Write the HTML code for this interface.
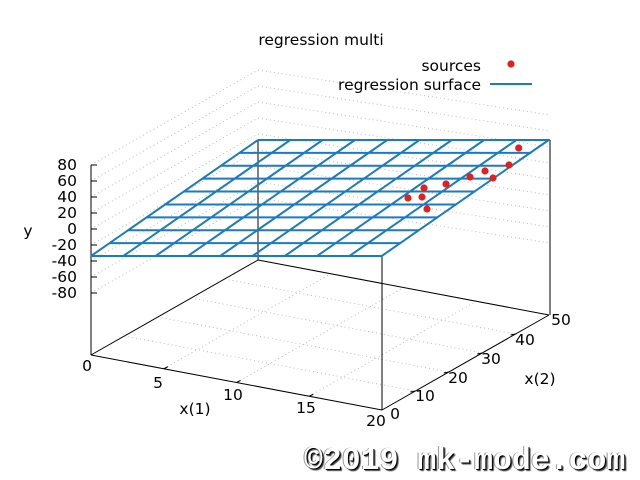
<!DOCTYPE html>
<html><head><meta charset="utf-8"><style>
body{margin:0;background:#fff;width:640px;height:480px;overflow:hidden}
svg text{font-family:"DejaVu Sans","Liberation Sans",sans-serif;font-size:15.5px;fill:#000}
.wm{position:absolute;left:304px;top:444px;font:bold 31.5px "Liberation Mono",monospace;color:#fff;white-space:pre;text-shadow:1px 1px 0 #000,2px 2px 1px #444,-1px 0 0 #999}
</style></head><body>
<svg width="640" height="480" xmlns="http://www.w3.org/2000/svg" style="position:absolute;left:0;top:0">
<g id="g"></g>
</svg>
<div class="wm">©2019 mk-mode.com</div>
<script>
const g=document.getElementById('g');
let s='';
function L(x1,y1,x2,y2,c,w,d){s+=`<line x1="${x1}" y1="${y1}" x2="${x2}" y2="${y2}" stroke="${c}" stroke-width="${w}" ${d?'stroke-dasharray="1,3"':''}/>`;}
function T(x,y,t,a){s+=`<text x="${x}" y="${y}" text-anchor="${a||'middle'}">${t}</text>`;}
function B(u,v){return [91+291*u+167*v, 355+55*u-95*v];}
const gc='#bbb';
const yt=[165,181,197,213,229,245,261,277,293];
for(const y of yt){L(91,y,258,y-95,gc,1,1);L(258,y-95,550,y-50,gc,1,1);}
for(const u of [0.25,0.5,0.75]){let a=B(u,0),b=B(u,1);L(a[0],a[1],b[0],b[1],gc,1,1);}
for(const v of [0.2,0.4,0.6,0.8]){let a=B(0,v),b=B(1,v);L(a[0],a[1],b[0],b[1],gc,1,1);}
let p00=B(0,0),p10=B(1,0),p11=B(1,1),p01=B(0,1);
L(p00[0],p00[1],p10[0],p10[1],'#000',1);L(p10[0],p10[1],p11[0],p11[1],'#000',1);
L(p11[0],p11[1],p01[0],p01[1],'#000',1);L(p01[0],p01[1],p00[0],p00[1],'#000',1);
L(91,165,91,355,'#000',1);L(258,140,258,260,'#000',1);L(550,140,550,315,'#000',1);L(382,256,382,410,'#000',1);
const yl=['80','60','40','20','0','-20','-40','-60','-80'];
yt.forEach((y,i)=>{L(91,y,97,y,'#000',1);T(77,y+5,yl[i],'end');});
[5,10,15].forEach(v=>{let a=B(v/20,0);L(a[0],a[1],a[0]+4,a[1]-2,'#000',1);});
T(87,371,'0');T(158,388,'5');T(233,400,'10');T(306,413,'15');T(376,426,'20');
T(195,414,'x(1)');
[10,20,30,40].forEach(v=>{let a=B(1,v/50);L(a[0],a[1],a[0]-5,a[1]+1,'#000',1);});
T(395,419,'0');
T(425,401,'10');T(458,383,'20');T(491,364,'30');T(525,345,'40');T(561,325,'50');
T(540,384,'x(2)');
T(28,236,'y');
const sc='#1a7bbf';
for(let i=0;i<10;i++){let t=i/9;let y=256-116*t;L(91+167*t,y,382+168*t,y,sc,2);
 let x=91+32.3*i;L(x,256,x+167,140,sc,2);}
const pts=[[518.7,148],[509,165],[485,171],[493,178],[470,177],[446,184],[424,188],[408,198],[422,197],[427,209]];
for(const p of pts)s+=`<circle cx="${p[0]}" cy="${p[1]}" r="3.6" fill="#e3201b"/>`;
T(321,45,'regression multi');
T(481,71,'sources','end');s+=`<circle cx="511" cy="64" r="3.6" fill="#e3201b"/>`;
T(481,90,'regression surface','end');L(490,84,532,84,sc,2);
g.innerHTML=s;
</script>
</body></html>
